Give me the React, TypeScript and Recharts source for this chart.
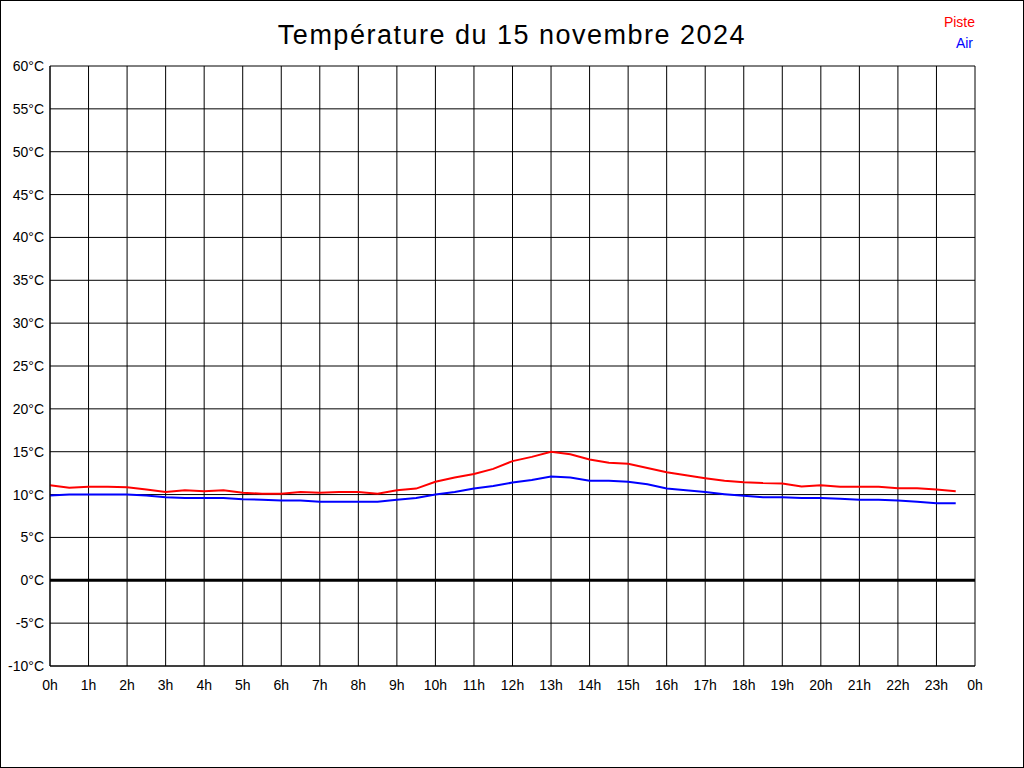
import React from 'react';
import { LineChart, Line, XAxis, YAxis, CartesianGrid, ReferenceLine } from 'recharts';

// relevés toutes les 30 minutes (heure décimale)
const hours = [
  0, 0.5, 1, 1.5, 2, 2.5, 3, 3.5, 4, 4.5, 5, 5.5, 6, 6.5, 7, 7.5, 8, 8.5, 9, 9.5, 10, 10.5, 11, 11.5,
  12, 12.5, 13, 13.5, 14, 14.5, 15, 15.5, 16, 16.5, 17, 17.5, 18, 18.5, 19, 19.5, 20, 20.5, 21, 21.5,
  22, 22.5, 23, 23.5,
];

const piste = [
  11.1, 10.8, 10.9, 10.9, 10.85, 10.6, 10.3, 10.5, 10.4, 10.5, 10.2, 10.1, 10.1, 10.3, 10.2, 10.3,
  10.3, 10.1, 10.5, 10.7, 11.5, 12.0, 12.4, 13.0, 13.9, 14.4, 15.0, 14.7, 14.1, 13.7, 13.6, 13.1,
  12.6, 12.25, 11.9, 11.6, 11.45, 11.35, 11.3, 10.95, 11.1, 10.9, 10.9, 10.9, 10.75, 10.75, 10.6, 10.4,
];

const air = [
  9.9, 10.0, 10.0, 10.0, 10.0, 9.9, 9.7, 9.6, 9.6, 9.6, 9.45, 9.4, 9.3, 9.3, 9.15, 9.15,
  9.15, 9.15, 9.4, 9.6, 10.0, 10.3, 10.7, 11.0, 11.4, 11.7, 12.1, 12.0, 11.6, 11.6, 11.5, 11.2,
  10.7, 10.5, 10.3, 10.05, 9.85, 9.7, 9.7, 9.6, 9.6, 9.5, 9.4, 9.4, 9.3, 9.15, 9.0, 9.0,
];

const xTicks = Array.from({ length: 25 }, (_, i) => i);
const yTicks = [-10, -5, 0, 5, 10, 15, 20, 25, 30, 35, 40, 45, 50, 55, 60];

const data = hours.map((h, i) => ({ h, piste: piste[i], air: air[i] }));

const font = 'Arial, "Liberation Sans", sans-serif';
const tickStyle = { fontSize: 14, fill: '#000', fontFamily: font };

const App: React.FC = () => {
  return (
    <div style={{ position: 'absolute', left: 0, top: 0, width: 1024, height: 768, background: '#fff', fontFamily: font }}>
      <LineChart
        width={1024}
        height={768}
        data={data}
        margin={{ top: 66, right: 49, bottom: 72, left: 0 }}
      >
        <CartesianGrid stroke="#000" strokeWidth={1} />
        <XAxis
          dataKey="h"
          type="number"
          domain={[0, 24]}
          ticks={xTicks}
          interval={0}
          tickFormatter={(v: number) => `${v % 24}h`}
          height={30}
          tickSize={0}
          tickMargin={14}
          axisLine={{ stroke: '#000' }}
          tick={tickStyle}
        />
        <YAxis
          type="number"
          domain={[-10, 60]}
          ticks={yTicks}
          interval={0}
          tickFormatter={(v: number) => `${v}°C`}
          width={50}
          tickSize={0}
          tickMargin={6}
          axisLine={{ stroke: '#000' }}
          tick={tickStyle}
        />
        <ReferenceLine y={0} stroke="#000" strokeWidth={3} />
        <Line type="linear" dataKey="piste" stroke="#ff0000" strokeWidth={2} dot={false} isAnimationActive={false} />
        <Line type="linear" dataKey="air" stroke="#0000ff" strokeWidth={2} dot={false} isAnimationActive={false} />
      </LineChart>
      <div style={{ position: 'absolute', left: 0, top: 20, width: 1024, textAlign: 'center', fontSize: 27, letterSpacing: 1.5, color: '#000' }}>
        Température du 15 novembre 2024
      </div>
      <div style={{ position: 'absolute', right: 49, top: 14, fontSize: 14, color: '#ff0000', textAlign: 'right' }}>Piste</div>
      <div style={{ position: 'absolute', right: 51, top: 35, fontSize: 14, color: '#0000ff', textAlign: 'right' }}>Air</div>
      <div style={{ position: 'absolute', left: 0, top: 0, width: 1024, height: 768, boxSizing: 'border-box', border: '1px solid #000', pointerEvents: 'none' }} />
    </div>
  );
};

export default App;
